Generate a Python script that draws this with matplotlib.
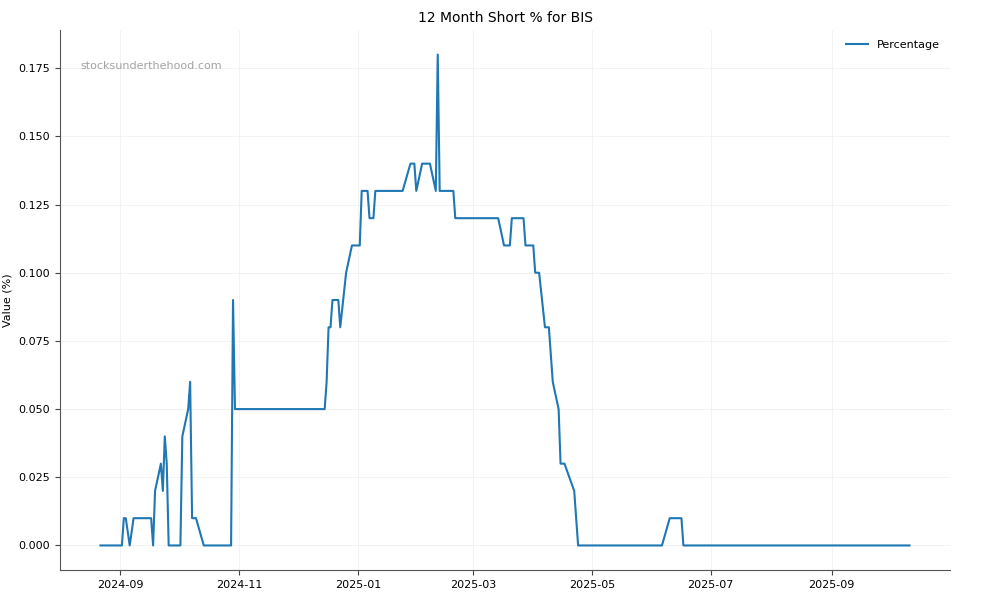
import matplotlib
matplotlib.use("Agg")
import matplotlib.pyplot as plt
import matplotlib.dates as mdates
import pandas as pd

title = "12 Month Short % for BIS"
series_name = "Percentage"
dates = [
    "2024-08-22", "2024-09-02", "2024-09-03", "2024-09-04", "2024-09-06",
    "2024-09-08", "2024-09-17", "2024-09-18", "2024-09-19", "2024-09-22",
    "2024-09-23", "2024-09-24", "2024-09-25", "2024-09-26", "2024-10-02",
    "2024-10-03", "2024-10-06", "2024-10-07", "2024-10-08", "2024-10-10",
    "2024-10-14", "2024-10-28", "2024-10-29", "2024-10-30", "2024-12-15",
    "2024-12-16", "2024-12-17", "2024-12-18", "2024-12-19", "2024-12-22",
    "2024-12-23", "2024-12-26", "2024-12-29", "2025-01-02", "2025-01-03",
    "2025-01-06", "2025-01-07", "2025-01-09", "2025-01-10", "2025-01-24",
    "2025-01-28", "2025-01-30", "2025-01-31", "2025-02-03", "2025-02-07",
    "2025-02-10", "2025-02-11", "2025-02-12", "2025-02-19", "2025-02-20",
    "2025-03-14", "2025-03-17", "2025-03-20", "2025-03-21", "2025-03-27",
    "2025-03-28", "2025-04-01", "2025-04-02", "2025-04-04", "2025-04-07",
    "2025-04-09", "2025-04-11", "2025-04-14", "2025-04-15", "2025-04-17",
    "2025-04-22", "2025-04-24", "2025-06-06", "2025-06-10", "2025-06-16",
    "2025-06-17", "2025-10-11",
]
values = [
    0.00, 0.00, 0.01, 0.01, 0.00,
    0.01, 0.01, 0.00, 0.02, 0.03,
    0.02, 0.04, 0.03, 0.00, 0.00,
    0.04, 0.05, 0.06, 0.01, 0.01,
    0.00, 0.00, 0.09, 0.05, 0.05,
    0.06, 0.08, 0.08, 0.09, 0.09,
    0.08, 0.10, 0.11, 0.11, 0.13,
    0.13, 0.12, 0.12, 0.13, 0.13,
    0.14, 0.14, 0.13, 0.14, 0.14,
    0.13, 0.18, 0.13, 0.13, 0.12,
    0.12, 0.11, 0.11, 0.12, 0.12,
    0.11, 0.11, 0.10, 0.10, 0.08,
    0.08, 0.06, 0.05, 0.03, 0.03,
    0.02, 0.00, 0.00, 0.01, 0.01,
    0.00, 0.00,
]

x = pd.to_datetime(dates)

fig, ax = plt.subplots(figsize=(10, 6), dpi=100)
ax.plot(x, values, color="#1f77b4", linewidth=1.5, label=series_name)

ax.set_title(title, fontsize=10)
ax.set_ylabel("Value (%)", fontsize=8)
ax.tick_params(labelsize=8, color="#444444")
ax.xaxis.set_major_locator(mdates.MonthLocator(bymonth=[1, 3, 5, 7, 9, 11]))
ax.xaxis.set_major_formatter(mdates.DateFormatter("%Y-%m"))
ax.grid(True, color="#eeeeee", linewidth=0.6, alpha=0.8)
for s in ("top", "right"):
    ax.spines[s].set_visible(False)
for s in ("left", "bottom"):
    ax.spines[s].set_color("#555555")

ax.text(0.023, 0.928, "stocksunderthehood.com", transform=ax.transAxes,
        fontsize=8, color="#999999", alpha=0.9)
ax.legend(loc="upper right", frameon=False, fontsize=8)

fig.subplots_adjust(left=0.06, right=0.95, top=0.95, bottom=0.05)
fig.savefig("out.png", dpi=100)
